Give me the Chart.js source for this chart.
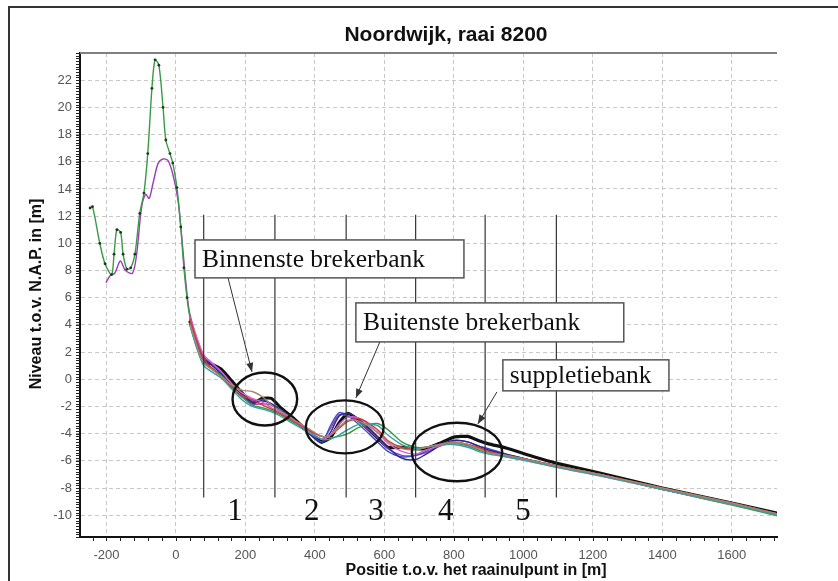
<!DOCTYPE html>
<html lang="nl">
<head>
  <meta charset="UTF-8">
  <title>Noordwijk, raai 8200</title>
  <style>
    html, body { margin: 0; padding: 0; background: #fff; overflow: hidden; }
    canvas { display: block; }
  </style>
</head>
<body>
  <canvas id="profile-chart" width="838" height="581"></canvas>

  <script src="https://cdn.jsdelivr.net/npm/chart.js"></script>
  <script>
    // axis ticks
    const xTicks = [-200, 0, 200, 400, 600, 800, 1000, 1200, 1400, 1600];
    const yTicks = [-10, -8, -6, -4, -2, 0, 2, 4, 6, 8, 10, 12, 14, 16, 18, 20, 22];

    // dune part, only two profiles reach that far landward
    const greenDuneX = [-247, -240, -219, -204, -185, -178, -170, -159, -152, -141, -130, -118, -104, -92, -81, -69, -60, -49, -37, -29, -17, -9, 3, 14, 23, 32];
    const greenDuneY = [12.6, 12.7, 10.0, 8.5, 7.7, 9.2, 11.0, 10.8, 9.2, 8.1, 8.2, 9.2, 12.2, 13.7, 16.6, 21.4, 23.5, 23.1, 20.0, 17.6, 16.6, 15.9, 14.1, 11.2, 8.2, 6.0];
    const purpleDuneX = [-201, -190, -176, -160, -145, -125, -113, -99, -87, -77, -66, -51, -37, -23, -9, 6, 16, 26, 34];
    const purpleDuneY = [7.1, 7.6, 7.8, 8.7, 8.0, 7.8, 9.2, 12.6, 13.6, 13.3, 14.4, 15.9, 16.2, 16.1, 15.1, 13.2, 10.7, 7.8, 5.8];

    // beach and foreshore, shared positions
    const nearX = [40, 60, 80, 100, 130, 160, 190, 220, 250, 275, 300, 340, 380, 420, 445, 470, 495, 530, 580, 610, 650, 690, 720, 760, 800, 840, 870, 900, 950, 1030, 1100, 1220, 1400, 1600, 1730];
    const greenNear = [4.6, 2.4, 1.2, 0.8, 0.3, -0.5, -1.3, -1.9, -2.1, -2.3, -2.6, -3.2, -3.7, -4.2, -4.3, -4.2, -4.0, -3.5, -3.25, -3.7, -4.6, -5.0, -5.0, -4.8, -4.7, -4.9, -5.2, -5.4, -5.6, -6.0, -6.4, -7.0, -8.1, -9.25, -10.05];
    const purpleNear = [4.8, 3.0, 1.7, 1.2, 0.5, -0.4, -1.1, -1.8, -1.8, -1.9, -2.3, -3.0, -3.7, -4.4, -3.6, -2.6, -2.7, -3.2, -4.3, -5.1, -5.6, -5.6, -5.4, -4.9, -4.7, -4.8, -5.1, -5.3, -5.6, -6.0, -6.4, -7.0, -8.1, -9.2, -9.95];
    const blueNear = [4.2, 2.6, 1.3, 0.9, 0.3, -0.5, -1.3, -1.6, -1.5, -1.8, -2.2, -3.0, -3.8, -4.6, -3.4, -2.45, -2.7, -3.4, -4.6, -5.3, -5.7, -5.6, -5.3, -4.8, -4.5, -4.6, -4.9, -5.1, -5.5, -6.0, -6.4, -7.0, -8.1, -9.1, -9.9];
    const redNear = [4.5, 2.8, 1.5, 0.9, 0.2, -0.6, -1.2, -1.5, -1.9, -2.2, -2.5, -3.1, -3.7, -4.2, -4.1, -3.6, -3.1, -2.9, -3.7, -4.5, -5.0, -5.1, -5.0, -4.8, -4.6, -4.8, -5.0, -5.3, -5.6, -6.0, -6.4, -7.0, -8.0, -9.1, -9.9];
    const magentaNear = [4.6, 3.1, 1.8, 1.3, 0.6, -0.3, -1.0, -1.4, -1.7, -2.1, -2.4, -3.1, -3.8, -4.4, -4.1, -3.3, -2.8, -2.9, -3.9, -4.7, -5.3, -5.5, -5.2, -4.9, -4.7, -4.8, -5.1, -5.4, -5.7, -6.1, -6.5, -7.1, -8.1, -9.2, -9.9];
    const tealNear = [4.0, 2.3, 1.0, 0.6, 0.1, -0.7, -1.5, -2.0, -2.2, -2.4, -2.7, -3.3, -3.9, -4.4, -4.4, -4.1, -3.7, -3.3, -3.4, -4.1, -4.8, -5.1, -5.0, -4.8, -4.8, -5.0, -5.3, -5.5, -5.7, -6.1, -6.5, -7.1, -8.1, -9.2, -10.0];
    const navyNear = [4.4, 2.7, 1.5, 1.1, 0.4, -0.4, -1.1, -1.7, -1.6, -1.8, -2.3, -3.1, -3.9, -4.7, -3.9, -2.7, -2.5, -3.0, -4.2, -5.0, -5.8, -5.9, -5.5, -4.9, -4.5, -4.6, -4.9, -5.2, -5.5, -6.0, -6.4, -7.0, -8.1, -9.1, -9.9];
    const brownNear = [4.1, 2.5, 1.2, 0.8, 0.2, -0.4, -0.8, -0.9, -1.3, -1.9, -2.3, -3.0, -3.6, -4.2, -4.1, -3.5, -3.0, -3.1, -3.9, -4.6, -5.1, -5.2, -5.0, -4.8, -4.6, -4.8, -5.1, -5.4, -5.6, -6.0, -6.4, -7.0, -8.0, -9.1, -9.9];
    const blackNear = [4.3, 2.6, 1.4, 1.15, 0.75, -0.1, -1.0, -1.75, -1.4, -1.4, -2.05, -2.9, -3.85, -4.6, -4.3, -3.2, -2.5, -3.1, -4.3, -5.0, -5.0, -5.1, -5.1, -4.7, -4.25, -4.2, -4.5, -4.75, -5.05, -5.7, -6.2, -6.9, -8.0, -9.1, -9.85];

    // zones and labels
    const sectionBounds = [80, 285, 490, 690, 890, 1095];
    const sectionNames = ['1', '2', '3', '4', '5'];
    const sectionLabelX = [170, 391, 576, 777, 999];
    const bankNames = ['Binnenste brekerbank', 'Buitenste brekerbank', 'suppletiebank'];

    // annotation geometry, in metres
    const annotations = {
      lineTop: 12.1, lineBottom: -8.7, labelY: -9.75,
      boxes: [
        { x0: 55, x1: 829, y0: 10.25, y1: 7.46 },
        { x0: 518, x1: 1289, y0: 5.62, y1: 2.75 },
        { x0: 941, x1: 1419, y0: 1.43, y1: -0.85 }
      ],
      ellipses: [
        { cx: 256, cy: -1.45, rx: 93, ry: 1.95 },
        { cx: 486, cy: -3.5, rx: 112, ry: 1.95 },
        { cx: 809, cy: -5.35, rx: 130, ry: 2.15 }
      ],
      arrows: [
        { from: [150, 7.46], to: [219, 0.54] },
        { from: [587, 2.75], to: [518, -1.37] },
        { from: [924, -0.93], to: [869, -3.28] }
      ]
    };

    function points(xs, ys) {
      return xs.map((x, i) => ({ x, y: ys[i] }));
    }

    function line(data, color, width) {
      return {
        data, borderColor: color, borderWidth: width || 1.4,
        pointRadius: 0, tension: 0.3, fill: false
      };
    }

    const green = line(points(greenDuneX, greenDuneY).concat(points(nearX, greenNear)), '#3a9a46');
    green.pointRadius = c => (c.raw && c.raw.x < 40 ? 1.4 : 0);
    green.pointBackgroundColor = '#1d3a1d';
    green.pointBorderWidth = 0;

    const black = line(points(nearX, blackNear), '#111', 3.2);
    black.tension = 0.15;

    const datasets = [
      line(points(nearX, brownNear), '#a8866a'),
      line(points(nearX, tealNear), '#2fa3a3'),
      line(points(nearX, redNear), '#d23a3a'),
      line(points(nearX, magentaNear), '#d660d6'),
      green,
      line(points(nearX, navyNear), '#2a2a90'),
      line(points(nearX, blueNear), '#3a4fc8'),
      line(points(purpleDuneX, purpleDuneY).concat(points(nearX, purpleNear)), '#9b3fb0'),
      black
    ];

    const decor = {
      id: 'decor',
      beforeDraw(chart) {
        const { ctx, width, height } = chart;
        ctx.save();
        ctx.fillStyle = '#fff';
        ctx.fillRect(0, 0, width, height);
        ctx.strokeStyle = '#333';
        ctx.lineWidth = 2;
        ctx.beginPath();
        ctx.moveTo(9, height);
        ctx.lineTo(9, 7);
        ctx.lineTo(width, 7);
        ctx.stroke();
        ctx.restore();
      },
      afterDatasetsDraw(chart) {
        const { ctx } = chart;
        const sx = chart.scales.x, sy = chart.scales.y;
        const px = v => sx.getPixelForValue(v);
        const py = v => sy.getPixelForValue(v);
        ctx.save();

        // zone boundaries
        ctx.strokeStyle = '#333';
        ctx.lineWidth = 1.2;
        sectionBounds.forEach(b => {
          ctx.beginPath();
          ctx.moveTo(px(b), py(annotations.lineTop));
          ctx.lineTo(px(b), py(annotations.lineBottom));
          ctx.stroke();
        });

        // ellipses round the bars
        ctx.strokeStyle = '#111';
        ctx.lineWidth = 2.4;
        annotations.ellipses.forEach(e => {
          const cx = px(e.cx), cy = py(e.cy);
          ctx.beginPath();
          ctx.ellipse(cx, cy, px(e.cx + e.rx) - cx, cy - py(e.cy + e.ry), 0, 0, Math.PI * 2);
          ctx.stroke();
        });

        // arrows
        ctx.strokeStyle = '#333';
        ctx.fillStyle = '#333';
        ctx.lineWidth = 1;
        annotations.arrows.forEach(a => {
          const x0 = px(a.from[0]), y0 = py(a.from[1]);
          const x1 = px(a.to[0]), y1 = py(a.to[1]);
          const ang = Math.atan2(y1 - y0, x1 - x0);
          ctx.beginPath();
          ctx.moveTo(x0, y0);
          ctx.lineTo(x1, y1);
          ctx.stroke();
          ctx.beginPath();
          ctx.moveTo(x1, y1);
          ctx.lineTo(x1 - 9 * Math.cos(ang) + 3.5 * Math.sin(ang), y1 - 9 * Math.sin(ang) - 3.5 * Math.cos(ang));
          ctx.lineTo(x1 - 9 * Math.cos(ang) - 3.5 * Math.sin(ang), y1 - 9 * Math.sin(ang) + 3.5 * Math.cos(ang));
          ctx.closePath();
          ctx.fill();
        });

        // text boxes
        ctx.font = '25.5px "Liberation Serif", "Times New Roman", serif';
        ctx.textBaseline = 'middle';
        ctx.textAlign = 'left';
        annotations.boxes.forEach((b, i) => {
          const x0 = px(b.x0), x1 = px(b.x1), y0 = py(b.y0), y1 = py(b.y1);
          ctx.fillStyle = '#fff';
          ctx.fillRect(x0, y0, x1 - x0, y1 - y0);
          ctx.strokeStyle = '#555';
          ctx.lineWidth = 1.5;
          ctx.strokeRect(x0, y0, x1 - x0, y1 - y0);
          ctx.fillStyle = '#111';
          ctx.fillText(bankNames[i], x0 + 7, (y0 + y1) / 2 + 1);
        });

        // zone numbers
        ctx.font = '31px "Liberation Serif", "Times New Roman", serif';
        ctx.textAlign = 'center';
        ctx.fillStyle = '#111';
        sectionNames.forEach((n, i) => {
          ctx.fillText(n, px(sectionLabelX[i]), py(annotations.labelY));
        });
        ctx.restore();
      },
      afterDraw(chart) {
        const { ctx, chartArea: a } = chart;
        const sx = chart.scales.x, sy = chart.scales.y;
        ctx.save();

        // top edge of plot
        ctx.strokeStyle = '#808080';
        ctx.lineWidth = 2;
        ctx.beginPath();
        ctx.moveTo(a.left, a.top);
        ctx.lineTo(a.right, a.top);
        ctx.stroke();

        // minor ticks
        ctx.strokeStyle = '#222';
        ctx.lineWidth = 1;
        ctx.beginPath();
        for (let v = -240; v <= sx.max; v += 40) {
          const x = Math.round(sx.getPixelForValue(v)) + 0.5;
          ctx.moveTo(x, a.bottom);
          ctx.lineTo(x, a.bottom + 4);
        }
        for (let k = Math.ceil(sy.min * 5); k <= sy.max * 5; k++) {
          const y = Math.round(sy.getPixelForValue(k / 5)) + 0.5;
          ctx.moveTo(a.left - 4, y);
          ctx.lineTo(a.left, y);
        }
        ctx.stroke();

        // titles
        ctx.fillStyle = '#111';
        ctx.textAlign = 'center';
        ctx.textBaseline = 'middle';
        ctx.font = 'bold 21px "Liberation Sans", Arial, sans-serif';
        ctx.fillText('Noordwijk, raai 8200', 446, 35);
        ctx.font = 'bold 16px "Liberation Sans", Arial, sans-serif';
        ctx.fillText('Positie t.o.v. het raainulpunt in [m]', 476, 571);
        ctx.translate(37, 294);
        ctx.rotate(-Math.PI / 2);
        ctx.fillText('Niveau t.o.v. N.A.P. in [m]', 0, 0);
        ctx.restore();
      }
    };

    const tickFont = { family: '"Liberation Sans", Arial, sans-serif', size: 13 };

    new Chart(document.getElementById('profile-chart'), {
      type: 'line',
      data: { datasets },
      options: {
        responsive: false,
        devicePixelRatio: 1,
        animation: false,
        layout: { padding: { left: 0, top: 53, right: 61, bottom: 0 } },
        plugins: { legend: { display: false }, tooltip: { enabled: false }, title: { display: false } },
        scales: {
          x: {
            type: 'linear', min: -276, max: 1730,
            afterBuildTicks: s => { s.ticks = xTicks.map(v => ({ value: v })); },
            afterFit: s => { s.height = 44; },
            grid: { color: '#c8c8c8', lineWidth: 1, drawTicks: false },
            border: { color: '#111', width: 2, dash: [4, 3] },
            ticks: { font: tickFont, color: '#555', padding: 11, maxRotation: 0, callback: v => String(v) }
          },
          y: {
            type: 'linear', min: -11.6, max: 24,
            afterBuildTicks: s => { s.ticks = yTicks.map(v => ({ value: v })); },
            afterFit: s => { s.width = 80; },
            grid: { color: '#c8c8c8', lineWidth: 1, drawTicks: true, tickLength: 4, tickColor: '#999' },
            border: { color: '#111', width: 2, dash: [4, 3] },
            ticks: { font: tickFont, color: '#555', padding: 4, callback: v => String(v) }
          }
        }
      },
      plugins: [decor]
    });
  </script>
</body>
</html>
